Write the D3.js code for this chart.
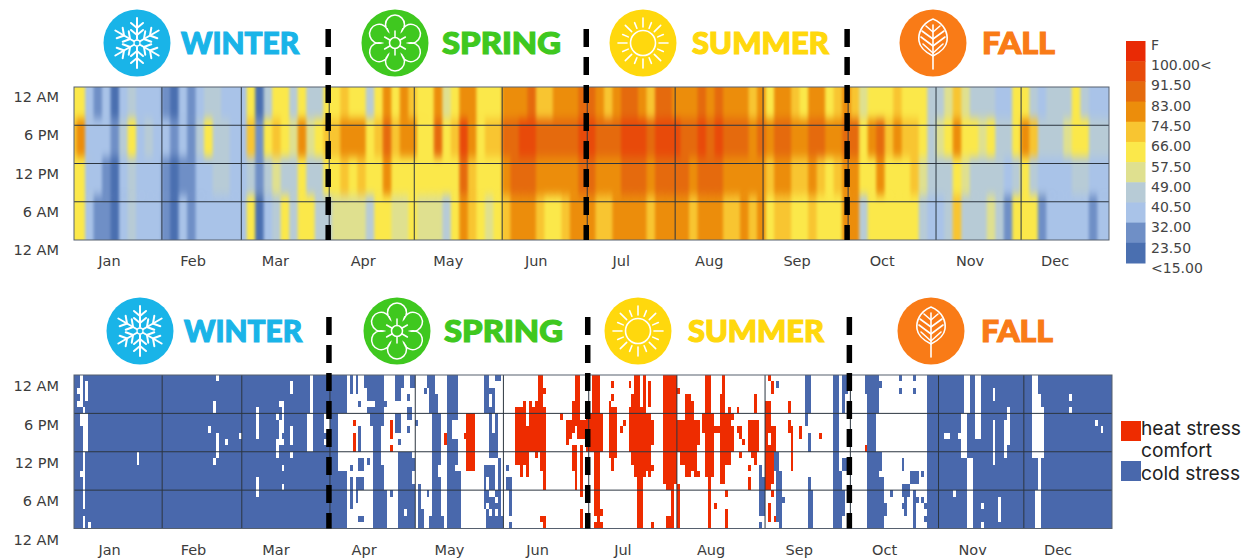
<!DOCTYPE html>
<html>
<head>
<meta charset="utf-8">
<script src="https://cdn.jsdelivr.net/npm/d3@7"></script>
<style>
  html, body { margin: 0; padding: 0; background: #fff; }
  svg { display: block; }
</style>
</head>
<body>
<svg id="chart" width="1247" height="558"></svg>
<script>
let months = ['Jan', 'Feb', 'Mar', 'Apr', 'May', 'Jun', 'Jul', 'Aug', 'Sep', 'Oct', 'Nov', 'Dec'];
let monthStart = [0, 31, 59, 90, 120, 151, 181, 212, 243, 273, 304, 334];
let monthMid = [15.5, 45, 74, 105, 135, 166, 196, 227, 258, 288, 319, 349];
let hourLabels = ['12 AM', '6 PM', '12 PM', '6 AM', '12 AM'];
let seasons = ['WINTER', 'SPRING', 'SUMMER', 'FALL'];
let seasonBreaks = [90, 181, 273];

// temperature class (0 = coldest .. a = hottest) for each 3 day column, one string per part of the day
let tempEvening = '5521202322 2102123322 2503553533 5565535757 6557457755 5777866777 8876788768 8777878777 6757765775 6764555655 5334643332 255323335322';
let tempAfternoon = '6722213523 2212135332 2615654745 6677756867 7558569756 6889988888 9988899989 9988989888 7878877887 7885786766 5345755453 357633345533';
let tempMorning = '5522102322 2101122332 2313433533 5565655755 5555558655 5788877777 8877788878 8887888777 7767766765 6775575556 4333543333 235322223322';
let tempNight = '5521102322 2102122222 2502353553 3444435544 5444357654 5677765567 7766777767 7776777667 6756655655 5773555555 3223633343 155512222212';

let tempClasses = ['#4a6fb0', '#6f8fc6', '#a9c3e8', '#b7cbd6', '#dfe08f', '#fbe84a', '#f8c531', '#ec8d0b', '#e56a0d', '#e84a0a', '#e92a05'];
let tempLabels = ['F', '100.00<', '91.50', '83.00', '74.50', '66.00', '57.50', '49.00', '40.50', '32.00', '23.50', '<15.00'];

// stress runs: [first day, end day, first row, end row], row 0 is the top of the chart
let comfortRuns = [
  [90,300,0,24],
  [2,3,0,5],[4,5,1,4],[1,2,2,3],[1,2,4,5],[3,4,5,6],[2,4,6,8],[3,5,6,12],[3,4,12,21],[3,4,22,24],[5,6,23,24],[2,3,15,16],
  [22,23,12,14],[50,51,0,1],[49,50,4,6],[47,48,8,9],[50,51,9,13],[49,50,13,14],[53,54,10,11],[58,59,9,10],
  [64,65,5,10],[64,65,16,19],[76,77,1,3],[72,74,4,5],[73,74,5,7],[71,72,6,7],[72,74,7,9],[72,73,9,10],[71,74,10,11],[71,72,11,13],
  [76,77,8,11],[76,77,12,13],[73,74,14,15],[73,74,17,18],[83,84,0,6],[82,84,6,12],[88,90,6,9],[88,89,10,11],[90,91,21,22],
  [313,315,0,6],[312,314,6,13],[314,316,13,24],[317,319,0,10],[311,312,9,10],[306,308,9,10],[309,310,18,19],[323,324,2,4],
  [323,324,7,14],[328,329,5,11],[327,328,7,13],[319,320,20,21],[325,326,19,23],[319,320,23,24],
  [337,339,0,3],[337,340,3,5],[337,341,5,13],[339,340,13,18],[338,340,18,24],
  [350,351,3,4],[350,351,5,6],[359,360,7,8],[361,362,8,9]
];

let coldRuns = [
  [90,96,0,6],[90,93,6,12],[90,93,12,15],[90,96,15,24],
  [97,98,0,3],[97,98,14,15],[97,98,16,21],[99,102,16,18],[99,100,18,20],[100,102,22,23],[100,101,4,5],[100,101,8,12],
  [100,102,13,15],[103,104,13,14],[99,100,0,3],[102,103,0,2],
  [103,109,0,4],[106,109,4,5],[103,109,5,6],[104,109,6,8],[105,108,8,14],[105,109,14,18],[105,110,18,24],[109,110,4,5],
  [111,112,18,19],[113,115,0,4],[115,116,0,2],[113,115,6,9],[114,115,10,11],[117,118,8,9],[117,119,5,7],[118,120,0,2],[117,118,3,4],
  [114,119,12,21],[114,116,21,22],[117,119,21,22],[114,119,22,24],[119,120,13,15],[119,120,17,24],[120,121,7,8],[121,122,17,24],
  [123,124,2,3],[124,125,18,19],[124,127,0,2],[125,127,2,3],[125,128,3,6],[126,129,6,14],[126,128,14,16],[126,129,16,22],[125,130,22,24],[122,123,21,24],
  [131,135,0,6],[131,133,6,12],[133,135,6,7],[133,135,10,12],[131,134,12,15],[134,135,12,14],[131,136,15,24],
  [144,146,0,2],[148,150,0,1],[144,148,2,3],[144,146,3,5],[147,148,3,5],[144,148,5,6],[146,147,6,13],[148,149,6,13],[147,148,9,13],
  [144,148,14,16],[144,145,16,18],[146,148,16,18],[149,150,13,18],[144,146,18,19],[148,150,18,19],[144,145,19,20],[145,148,19,20],
  [149,150,19,20],[144,145,20,21],[146,150,20,21],[145,146,21,22],[147,148,21,22],[149,150,21,22],[145,151,22,24],
  [152,153,14,15],[152,154,16,18],[153,154,18,22],[153,154,23,24],
  [247,248,1,2],[257,259,0,6],[257,258,6,8],[258,259,9,12],[258,259,16,18],[258,260,18,24],
  [241,242,14,16],[241,243,16,22],[241,242,23,24],[246,248,12,15],[247,249,15,19],[247,250,19,20],[247,249,20,23],[248,249,23,24],
  [267,269,0,24],[269,270,15,24],[270,272,0,3],[270,271,3,6],[270,272,13,15],[270,271,18,22],
  [278,283,0,1],[278,284,1,2],[278,283,2,3],[279,283,3,6],[279,282,6,12],[279,284,12,15],[279,283,15,16],[279,285,16,20],[279,286,20,22],[279,285,22,24],
  [290,291,0,1],[290,291,2,3],[295,296,0,1],[295,296,2,3],[291,292,13,15],[294,297,15,17],[298,299,15,16],
  [287,288,18,19],[291,294,17,19],[292,293,19,22],[291,292,20,21],[295,296,18,24],[296,297,19,20],[298,299,19,20],[299,300,20,21],[299,300,22,23]
];

let heatRuns = [
  [98,99,7,8],[98,99,9,12],[111,112,7,10],[111,112,11,12],[130,131,9,11],[138,141,6,15],[137,138,9,10],[278,279,11,12],
  [155,159,5,6],[160,162,5,6],[163,166,5,6],[155,159,6,8],[160,166,6,8],[155,166,8,12],[155,160,12,14],[157,158,14,16],[159,160,14,16],
  [162,163,12,13],[164,166,12,15],[165,166,15,18],[164,166,22,23],[165,166,23,24],[158,159,4,5],[160,161,4,6],[162,163,4,6],
  [163,165,0,5],[165,166,2,3],
  [171,172,6,7],[176,178,0,4],[175,178,4,7],[173,180,7,8],[173,176,8,9],[177,180,8,9],[173,175,9,10],[177,180,9,10],[173,174,10,11],
  [175,177,11,15],[176,177,15,18],[178,179,11,19],[178,179,21,24],
  [182,185,0,6],[180,186,6,12],[183,185,12,21],[183,186,21,22],[184,185,22,23],[183,186,23,24],
  [189,190,1,2],[189,190,3,4],[188,189,4,5],[188,191,5,13],[189,190,13,15],[193,194,7,8],[192,193,8,9],
  [195,196,1,2],[197,199,0,3],[200,201,0,5],[202,203,1,5],[196,199,3,5],[195,201,5,6],[195,203,6,7],[195,204,7,11],[195,203,11,12],
  [196,203,12,14],[197,204,14,15],[197,201,15,16],[202,203,15,16],[198,200,16,24],[203,204,23,24],
  [207,212,0,17],[208,211,17,18],[210,211,18,22],[208,211,22,24],[212,213,2,3],[212,213,17,24],
  [215,217,3,4],[215,218,4,7],[212,220,7,11],[212,219,11,12],[213,219,12,14],[215,219,14,15],[215,217,15,16],[218,220,15,16],
  [222,224,0,6],[221,225,6,9],[225,227,8,9],[222,225,9,16],[223,224,16,24],[225,226,20,21],
  [228,229,0,3],[227,229,3,6],[227,231,6,8],[227,232,8,12],[227,231,12,14],[227,229,14,17],[229,230,18,19],[229,230,21,24],
  [230,231,5,6],[231,232,6,7],[233,234,5,6],[233,235,8,9],[234,235,9,10],[235,236,10,11],[234,235,12,13],
  [239,240,3,6],[237,241,7,12],[238,240,12,13],[239,240,13,14],[237,238,14,15],[237,238,16,18],
  [244,245,0,1],[245,246,1,3],[243,245,4,9],[245,247,8,9],[243,244,9,11],[245,247,9,11],[243,247,11,12],[243,246,12,17],[243,245,17,18],
  [245,246,18,19],[244,245,20,23],[246,247,22,23],
  [251,252,4,6],[251,252,7,9],[252,253,8,15],[255,256,8,10],[262,263,9,10]
];

let stressColors = { cold: '#4968ac', comfort: '#ffffff', heat: '#ee2c00' };
let stressLabels = ['heat stress', 'comfort', 'cold stress'];

let seasonColors = ['#19b4e8', '#3fc81f', '#ffd80d', '#f97b17'];

let svg = d3.select('#chart');

// blur filters, the picture is a soft scan
let defs = svg.append('defs');
defs.append('filter').attr('id', 'softTemp').attr('x', '-2%').attr('y', '-5%').attr('width', '104%').attr('height', '110%')
  .attr('color-interpolation-filters', 'sRGB')
  .append('feGaussianBlur').attr('stdDeviation', '1.5 5');
defs.append('filter').attr('id', 'softStress').attr('x', '-2%').attr('y', '-5%').attr('width', '104%').attr('height', '110%')
  .attr('color-interpolation-filters', 'sRGB')
  .append('feGaussianBlur').attr('stdDeviation', '0.5');

function drawIcon(g, season) {
  let line = g.append('g').attr('fill', 'none').attr('stroke', '#fff').attr('stroke-width', 1.6).attr('stroke-linecap', 'round');
  if (season === 'WINTER') {
    d3.range(6).forEach(i => {
      let arm = line.append('g').attr('transform', 'rotate(' + i * 60 + ')').attr('stroke-width', 2);
      arm.append('line').attr('y1', -4).attr('y2', -25);
      arm.append('path').attr('d', 'M-6,-13 L0,-8 L6,-13 M-6,-20 L0,-15 L6,-20');
    });
    line.append('circle').attr('r', 3).attr('stroke-width', 1.3);
  } else if (season === 'SPRING') {
    line.attr('stroke-width', 1.5);
    line.append('path').attr('d', d3.range(6).map(i => {
      let a = i * Math.PI / 3 - Math.PI / 2 - Math.PI / 6;
      let b = a + Math.PI / 3;
      return (i === 0 ? 'M' + 13.5 * Math.cos(a) + ',' + 13.5 * Math.sin(a) : '') +
        'A9.5,9.5 0 1 1 ' + 13.5 * Math.cos(b) + ',' + 13.5 * Math.sin(b);
    }).join('') + 'Z');
    line.append('circle').attr('r', 5.5);
    d3.range(6).forEach(i => {
      line.append('line').attr('y1', -5.5).attr('y2', -12).attr('transform', 'rotate(' + i * 60 + ')');
    });
  } else if (season === 'SUMMER') {
    line.attr('stroke-width', 1.6);
    line.append('circle').attr('r', 12.5);
    d3.range(16).forEach(i => {
      line.append('line').attr('y1', -16).attr('y2', i % 2 ? -22 : -25).attr('transform', 'rotate(' + i * 22.5 + ')');
    });
  } else {
    line.attr('stroke-width', 1.6);
    line.append('path').attr('d', 'M0,-24 C12,-19 15,-9 14,-2 C13,6 6,10 0,13 C-6,10 -13,6 -14,-2 C-15,-9 -12,-19 0,-24 Z');
    line.append('path').attr('d', 'M0,-18 L0,26');
    line.append('path').attr('d', 'M0,-11 L-7,-17 M0,-11 L7,-17 M0,-4 L-11,-12 M0,-4 L11,-12 M0,3 L-12,-6 M0,3 L12,-6 M0,10 L-10,1 M0,10 L10,1');
  }
}

function drawHeader(layout) {
  seasons.forEach((season, i) => {
    let icon = svg.append('g').attr('transform', 'translate(' + layout.iconX[i] + ',' + layout.headerY + ')');
    icon.append('circle').attr('r', 33.5).attr('fill', seasonColors[i]);
    drawIcon(icon, season);
    svg.append('text')
      .attr('x', layout.textX[i])
      .attr('y', layout.headerY + 11)
      .attr('textLength', layout.textW[i])
      .attr('lengthAdjust', 'spacingAndGlyphs')
      .style('font-family', 'Lato, sans-serif')
      .style('font-weight', 900)
      .style('font-size', '31px')
      .style('fill', seasonColors[i])
      .style('stroke', seasonColors[i])
      .style('stroke-width', 1.2)
      .text(season);
  });
}

function drawAxes(layout, x, y) {
  let panel = svg.append('g');

  // grid
  let gridColor = '#2c3640';
  panel.selectAll('.vgrid').data(monthStart.slice(1)).enter().append('line')
    .attr('x1', d => x(d)).attr('x2', d => x(d))
    .attr('y1', y(0)).attr('y2', y(24))
    .attr('stroke', gridColor).attr('stroke-width', 1);
  panel.selectAll('.hgrid').data([6, 12, 18]).enter().append('line')
    .attr('x1', layout.left).attr('x2', layout.right)
    .attr('y1', d => y(d)).attr('y2', d => y(d))
    .attr('stroke', gridColor).attr('stroke-width', 1);
  panel.append('rect')
    .attr('x', layout.left).attr('y', y(0))
    .attr('width', layout.right - layout.left).attr('height', y(24) - y(0))
    .attr('fill', 'none').attr('stroke', '#56606e').attr('stroke-width', 1);

  // season breaks
  panel.selectAll('.season').data(seasonBreaks).enter().append('line')
    .attr('x1', d => x(d) - 1).attr('x2', d => x(d) - 1)
    .attr('y1', layout.headerY - 14).attr('y2', y(24))
    .attr('stroke', '#000').attr('stroke-width', 5.5)
    .attr('stroke-dasharray', '18,10');

  // month labels sit a bit left of the month middle in the source
  let monthAxis = d3.axisBottom(x)
    .tickValues(monthMid)
    .tickFormat((d, i) => months[i])
    .tickSize(0);
  let mg = svg.append('g')
    .attr('transform', 'translate(-9,' + (y(24) + 13) + ')')
    .call(monthAxis);
  mg.select('.domain').remove();
  mg.selectAll('text').style('font-family', 'DejaVu Sans, sans-serif').style('font-size', '14.5px').style('fill', '#3c3c3c');

  let hourScale = d3.scalePoint().domain(d3.range(5)).range([y(0), y(24)]);
  let hourAxis = d3.axisLeft(hourScale).tickFormat(d => hourLabels[d]).tickSize(0);
  let hg = svg.append('g')
    .attr('transform', 'translate(' + (layout.left - 12) + ',' + layout.labelDy + ')')
    .call(hourAxis);
  hg.select('.domain').remove();
  hg.selectAll('text').style('font-family', 'DejaVu Sans, sans-serif').style('font-size', '14.5px').style('fill', '#3c3c3c');
}

// ---- temperature panel ----
let topLayout = { left: 74, right: 1109, top: 87, bottom: 240, headerY: 43, labelDy: 10,
  iconX: [137, 395, 643, 933], textX: [181, 442, 692, 982], textW: [118, 119, 137, 73] };

let topX = d3.scaleLinear().domain([0, 365]).range([topLayout.left, topLayout.right]);
let topY = d3.scaleLinear().domain([0, 24]).range([topLayout.top, topLayout.bottom]);
let colorOf = d3.scaleOrdinal().domain('0123456789a'.split('')).range(tempClasses);

let tempRows = [
  { from: 0, to: 5, values: tempEvening },
  { from: 5, to: 11, values: tempAfternoon },
  { from: 11, to: 17, values: tempMorning },
  { from: 17, to: 24, values: tempNight }
];
let tempCells = [];
tempRows.forEach(row => {
  row.values.replace(/ /g, '').split('').forEach((v, i) => {
    tempCells.push({ col: i, from: row.from, to: row.to, v: v });
  });
});

drawHeader(topLayout);

svg.append('clipPath').attr('id', 'clipTop').append('rect')
  .attr('x', topLayout.left).attr('y', topLayout.top)
  .attr('width', topLayout.right - topLayout.left).attr('height', topLayout.bottom - topLayout.top);

svg.append('g').attr('clip-path', 'url(#clipTop)')
  .append('g').attr('filter', 'url(#softTemp)')
  .selectAll('rect')
  .data(tempCells)
  .enter()
  .append('rect')
  .attr('x', d => topX(d.col * 3) - 6)
  .attr('y', d => topY(d.from) - (d.from === 0 ? 16 : 0))
  .attr('width', d => topX(3) - topX(0) + 12)
  .attr('height', d => topY(d.to) - topY(d.from) + (d.from === 0 || d.to === 24 ? 16 : 0))
  .attr('fill', d => colorOf(d.v));

drawAxes(topLayout, topX, topY);

// temperature legend
let legendY = d3.scaleBand().domain(d3.range(tempClasses.length)).range([41, 263]);
svg.append('g').selectAll('rect')
  .data(tempClasses.slice().reverse())
  .enter()
  .append('rect')
  .attr('x', 1126)
  .attr('y', (d, i) => legendY(i))
  .attr('width', 19.5)
  .attr('height', legendY.bandwidth() + 0.5)
  .attr('fill', d => d);
let legendText = d3.scalePoint().domain(d3.range(tempLabels.length)).range([45, 268]);
svg.append('g').selectAll('text')
  .data(tempLabels)
  .enter()
  .append('text')
  .attr('x', 1151)
  .attr('y', (d, i) => legendText(i))
  .attr('dy', '0.35em')
  .style('font-family', 'DejaVu Sans, sans-serif')
  .style('font-size', '14px')
  .style('fill', '#444')
  .text(d => d);

// ---- stress panel ----
let bottomLayout = { left: 74, right: 1112, top: 375, bottom: 528.5, headerY: 331, labelDy: 11,
  iconX: [140, 397, 638, 931], textX: [184, 444, 688, 981], textW: [118, 119, 136, 72] };

let botX = d3.scaleLinear().domain([0, 365]).range([bottomLayout.left, bottomLayout.right]);
let botY = d3.scaleLinear().domain([0, 24]).range([bottomLayout.top, bottomLayout.bottom]);

let grid = d3.range(365).map(() => d3.range(24).map(() => 'cold'));
function applyRuns(runs, kind) {
  runs.forEach(r => {
    for (let day = r[0]; day < r[1]; day++) {
      for (let row = r[2]; row < r[3]; row++) grid[day][row] = kind;
    }
  });
}
applyRuns(comfortRuns, 'comfort');
applyRuns(coldRuns, 'cold');
applyRuns(heatRuns, 'heat');

let stressCells = [];
grid.forEach((col, day) => col.forEach((kind, row) => stressCells.push({ day: day, row: row, kind: kind })));

drawHeader(bottomLayout);

svg.append('clipPath').attr('id', 'clipBottom').append('rect')
  .attr('x', bottomLayout.left).attr('y', bottomLayout.top)
  .attr('width', bottomLayout.right - bottomLayout.left).attr('height', bottomLayout.bottom - bottomLayout.top);

svg.append('g').attr('clip-path', 'url(#clipBottom)')
  .append('g').attr('filter', 'url(#softStress)')
  .selectAll('rect')
  .data(stressCells)
  .enter()
  .append('rect')
  .attr('x', d => botX(d.day))
  .attr('y', d => botY(d.row))
  .attr('width', botX(1) - botX(0) + 0.4)
  .attr('height', botY(1) - botY(0) + 0.4)
  .attr('shape-rendering', 'crispEdges')
  .attr('fill', d => stressColors[d.kind]);

drawAxes(bottomLayout, botX, botY);

// stress legend
let stressKinds = ['heat', 'comfort', 'cold'];
let stressY = d3.scaleBand().domain(stressKinds).range([421, 481]);
svg.append('g').selectAll('rect')
  .data(stressKinds)
  .enter()
  .append('rect')
  .attr('x', 1121)
  .attr('y', d => stressY(d))
  .attr('width', 20)
  .attr('height', stressY.bandwidth())
  .attr('fill', d => stressColors[d]);
svg.append('g').selectAll('text')
  .data(stressLabels)
  .enter()
  .append('text')
  .attr('x', 1141)
  .attr('y', (d, i) => 428 + i * 22.5)
  .attr('dy', '0.35em')
  .style('font-family', 'Inter, sans-serif')
  .style('font-size', '19.2px')
  .style('fill', '#222')
  .text(d => d);
</script>
</body>
</html>
